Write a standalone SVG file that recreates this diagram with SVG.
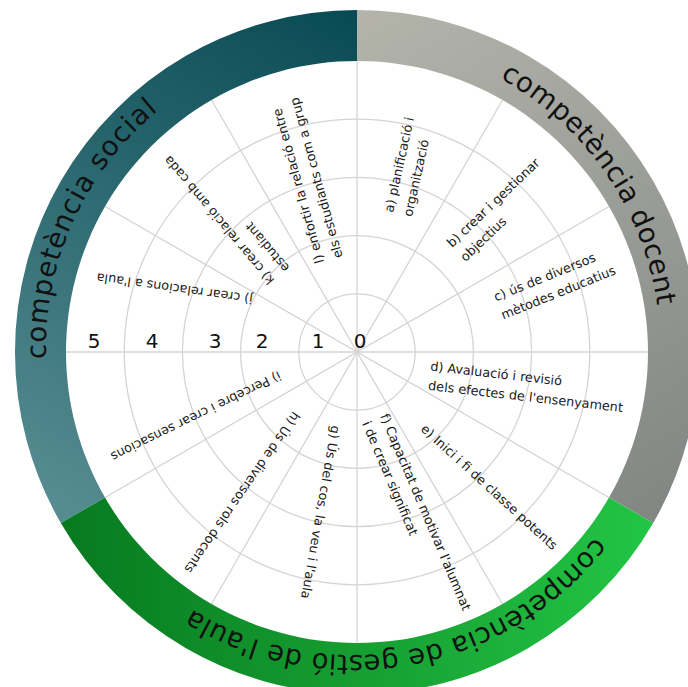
<svg xmlns="http://www.w3.org/2000/svg" width="688" height="687" viewBox="0 0 688 687">
<style>
.grid{fill:none;stroke:#d4d4d4;stroke-width:1.3}
.lbl{font-family:"DejaVu Sans","Liberation Sans",sans-serif;font-size:12.8px;fill:#1a1a1a}
.num{font-family:"DejaVu Sans","Liberation Sans",sans-serif;font-size:20px;fill:#111;text-anchor:middle}
.ring{font-family:"DejaVu Sans","Liberation Sans",sans-serif;font-size:27.5px;fill:#111;text-anchor:middle}
</style>
<defs>
<linearGradient id="gSocial" gradientUnits="userSpaceOnUse" x1="357" y1="10" x2="70" y2="510">
<stop offset="0" stop-color="#084a54"/><stop offset="0.5" stop-color="#2d6a71"/><stop offset="1" stop-color="#568b91"/>
</linearGradient>
<linearGradient id="gDocent" gradientUnits="userSpaceOnUse" x1="357" y1="10" x2="650" y2="515">
<stop offset="0" stop-color="#b4b4ab"/><stop offset="1" stop-color="#828784"/>
</linearGradient>
<linearGradient id="gGestio" gradientUnits="userSpaceOnUse" x1="650" y1="520" x2="65" y2="520">
<stop offset="0" stop-color="#22c545"/><stop offset="0.5" stop-color="#169e31"/><stop offset="1" stop-color="#077a20"/>
</linearGradient>
<path id="ringPath" d="M 87.1 501.5 A 307 307 0 1 1 618.9 194.5 A 307 307 0 1 1 87.1 501.5"/>
</defs>
<rect width="688" height="687" fill="#fff"/>
<g id="connectors">
<circle class="grid" cx="357" cy="352" r="58.2"/>
<circle class="grid" cx="357" cy="352" r="116.4"/>
<circle class="grid" cx="357" cy="352" r="174.6"/>
<circle class="grid" cx="357" cy="352" r="232.8"/>
<line class="grid" x1="66" y1="352" x2="648" y2="352"/>
<line class="grid" x1="357" y1="61" x2="357" y2="643"/>
<line class="grid" x1="609" y1="206.5" x2="105" y2="497.5"/>
<line class="grid" x1="502.5" y1="100" x2="211.5" y2="604"/>
<line class="grid" x1="211.5" y1="100" x2="502.5" y2="604"/>
<line class="grid" x1="105" y1="206.5" x2="609" y2="497.5"/>
</g>
<g id="sector-social">
<path d="M 60.8 523 A 342 342 0 0 1 357 10 L 357 61 A 291 291 0 0 0 105 497.5 Z" fill="url(#gSocial)"/>
<text class="ring" letter-spacing="1"><textPath href="#ringPath" startOffset="15.1%">competència social</textPath></text>
</g>
<g id="sector-docent">
<path d="M 357 10 A 342 342 0 0 1 653.2 523 L 609 497.5 A 291 291 0 0 0 357 61 Z" fill="url(#gDocent)"/>
<text class="ring" letter-spacing="0.3"><textPath href="#ringPath" startOffset="48.7%">competència docent</textPath></text>
</g>
<g id="sector-gestio">
<path d="M 653.2 523 A 342 342 0 0 1 60.8 523 L 105 497.5 A 291 291 0 0 0 609 497.5 Z" fill="url(#gGestio)"/>
<text class="ring" letter-spacing="0.3"><textPath href="#ringPath" startOffset="80.5%">competència de gestió de l'aula</textPath></text>
</g>
<g id="scale">
<text class="num" x="94" y="348">5</text>
<text class="num" x="152" y="348">4</text>
<text class="num" x="215" y="348">3</text>
<text class="num" x="262" y="348">2</text>
<text class="num" x="318" y="348">1</text>
<text class="num" x="360" y="348">0</text>
</g>
<g id="label-a" transform="translate(393,213) rotate(-77.5)"><text class="lbl"><tspan x="0" y="0">a) planificació i</tspan><tspan x="0" y="19.5">organització</tspan></text></g>
<g id="label-b" transform="translate(452,248) rotate(-43.5)"><text class="lbl"><tspan x="0" y="0">b) crear i gestionar</tspan><tspan x="0" y="19.5">objectius</tspan></text></g>
<g id="label-c" transform="translate(496,301.5) rotate(-22)"><text class="lbl"><tspan x="0" y="0">c) ús de diversos</tspan><tspan x="0" y="19.5">mètodes educatius</tspan></text></g>
<g id="label-d" transform="translate(430,370.5) rotate(6.5)"><text class="lbl"><tspan x="0" y="0">d) Avaluació i revisió</tspan><tspan x="0" y="19.5">dels efectes de l'ensenyament</tspan></text></g>
<g id="label-e" transform="translate(420,430) rotate(42.3)"><text class="lbl" x="0" y="0">e) Inici i fi de classe potents</text></g>
<g id="label-f" transform="translate(380,416) rotate(67)"><text class="lbl"><tspan x="0" y="0">f) Capacitat de motivar l'alumnat</tspan><tspan x="0" y="19.5">i de crear significat</tspan></text></g>
<g id="label-g" transform="translate(331.5,425) rotate(100)"><text class="lbl" x="0" y="0">g) Ús del cos, la veu i l'aula</text></g>
<g id="label-h" transform="translate(293.3,410.7) rotate(124.6)"><text class="lbl" x="0" y="0">h) Ús de diversos rols docents</text></g>
<g id="label-i" transform="translate(278.3,371) rotate(153.9)"><text class="lbl" x="0" y="0">i) Percebre i crear sensacions</text></g>
<g id="label-j" transform="translate(253.3,295) rotate(-172)"><text class="lbl" x="0" y="0">j) crear relacions a l'aula</text></g>
<g id="label-k" transform="translate(275,280) rotate(-130)"><text class="lbl"><tspan x="0" y="0">k) crear relació amb cada</tspan><tspan x="0" y="19.5">estudiant</tspan></text></g>
<g id="label-l" transform="translate(324,262) rotate(-105.5)"><text class="lbl"><tspan x="0" y="0">l) enfortir la relació entre</tspan><tspan x="0" y="19.5">els estudiants com a grup</tspan></text></g>
</svg>
